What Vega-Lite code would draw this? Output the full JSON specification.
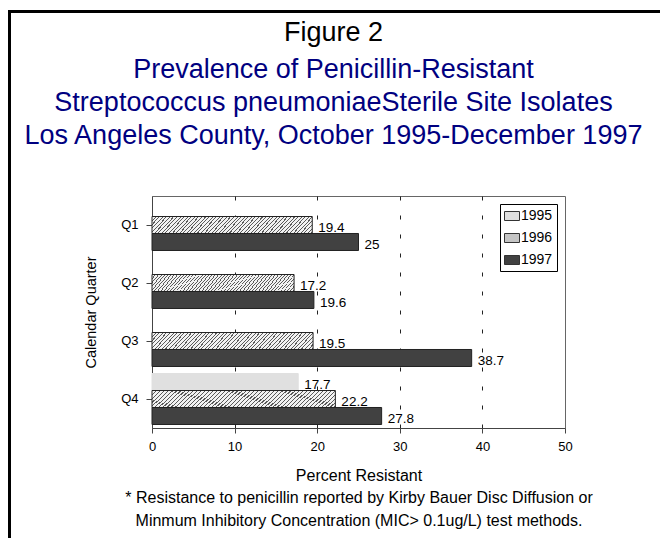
{
  "$schema": "https://vega.github.io/schema/vega-lite/v6.json",
  "width": 413,
  "height": 232,
  "autosize": {"type": "none"},
  "padding": {"left": 152, "top": 196, "right": 95, "bottom": 110},
  "background": "white",
  "config": {
    "font": "Liberation Sans",
    "view": {"stroke": "#666666", "strokeWidth": 1}
  },
  "title": {
    "text": "Figure 2",
    "subtitle": ["Prevalence of Penicillin-Resistant", "Streptococcus pneumoniaeSterile Site Isolates", "Los Angeles County, October 1995-December 1997"],
    "anchor": "middle",
    "dx": -25,
    "font": "Liberation Sans",
    "fontSize": 27,
    "fontWeight": "normal",
    "color": "#000000",
    "subtitleFont": "Liberation Sans",
    "subtitleFontSize": 27,
    "subtitleColor": "#000080",
    "subtitleLineHeight": 33,
    "subtitlePadding": 10.5,
    "offset": -140
  },
  "data": {
    "values": [
      {"quarter": "Q1", "year": "1996", "pct": 19.4},
      {"quarter": "Q1", "year": "1997", "pct": 25},
      {"quarter": "Q2", "year": "1996", "pct": 17.2},
      {"quarter": "Q2", "year": "1997", "pct": 19.6},
      {"quarter": "Q3", "year": "1996", "pct": 19.5},
      {"quarter": "Q3", "year": "1997", "pct": 38.7},
      {"quarter": "Q4", "year": "1995", "pct": 17.7},
      {"quarter": "Q4", "year": "1996", "pct": 22.2},
      {"quarter": "Q4", "year": "1997", "pct": 27.8}
    ]
  },
  "encoding": {
    "y": {
      "field": "quarter",
      "type": "nominal",
      "scale": {"domain": ["Q1", "Q2", "Q3", "Q4"], "paddingInner": 0, "paddingOuter": 0},
      "axis": {
        "title": "Calendar Quarter",
        "titleFontSize": 14.5,
        "titleFontWeight": "normal",
        "titleColor": "#000000",
        "titlePadding": 22,
        "labelFontSize": 13,
        "labelColor": "#000000",
        "labelPadding": 8,
        "labelAngle": 0,
        "tickSize": 6,
        "tickColor": "#444444",
        "domainColor": "#444444"
      }
    },
    "yOffset": {
      "field": "year",
      "type": "nominal",
      "scale": {"domain": ["1995", "1996", "1997"], "paddingInner": 0, "paddingOuter": 0.206}
    },
    "x": {
      "field": "pct",
      "type": "quantitative",
      "scale": {"domain": [0, 50], "nice": false},
      "axis": {
        "values": [0, 10, 20, 30, 40, 50],
        "title": ["Percent Resistant", "* Resistance to penicillin reported by Kirby Bauer Disc Diffusion or", "Minmum Inhibitory Concentration (MIC> 0.1ug/L) test methods."],
        "titleFontSize": 16,
        "titleFontWeight": "normal",
        "titleColor": "#000000",
        "titleLineHeight": 22.5,
        "titlePadding": 14,
        "labelFontSize": 13,
        "labelColor": "#000000",
        "labelPadding": 7,
        "labelFlush": false,
        "tickSize": 5,
        "tickColor": "#444444",
        "domainColor": "#444444",
        "grid": true,
        "gridColor": "#222222",
        "gridDash": [4, 15],
        "gridOpacity": {"condition": {"test": "datum.value === 0 || datum.value === 50", "value": 0}, "value": 1}
      }
    }
  },
  "layer": [
    {
      "mark": {"type": "bar", "strokeWidth": 1},
      "encoding": {
        "fill": {
          "condition": {
            "test": "datum.year === '1996'",
            "value": {
              "gradient": "linear", "x1": 0, "y1": 0, "x2": 1.1, "y2": 0.11,
              "stops": [
                {"offset": 0, "color": "#5a5a5a"}, {"offset": 0.006, "color": "#5a5a5a"}, {"offset": 0.006, "color": "#f2f2f2"}, {"offset": 0.02, "color": "#f2f2f2"},
                {"offset": 0.02, "color": "#5a5a5a"}, {"offset": 0.026, "color": "#5a5a5a"}, {"offset": 0.026, "color": "#f2f2f2"}, {"offset": 0.04, "color": "#f2f2f2"},
                {"offset": 0.04, "color": "#5a5a5a"}, {"offset": 0.046, "color": "#5a5a5a"}, {"offset": 0.046, "color": "#f2f2f2"}, {"offset": 0.06, "color": "#f2f2f2"},
                {"offset": 0.06, "color": "#5a5a5a"}, {"offset": 0.066, "color": "#5a5a5a"}, {"offset": 0.066, "color": "#f2f2f2"}, {"offset": 0.08, "color": "#f2f2f2"},
                {"offset": 0.08, "color": "#5a5a5a"}, {"offset": 0.086, "color": "#5a5a5a"}, {"offset": 0.086, "color": "#f2f2f2"}, {"offset": 0.1, "color": "#f2f2f2"},
                {"offset": 0.1, "color": "#5a5a5a"}, {"offset": 0.106, "color": "#5a5a5a"}, {"offset": 0.106, "color": "#f2f2f2"}, {"offset": 0.12, "color": "#f2f2f2"},
                {"offset": 0.12, "color": "#5a5a5a"}, {"offset": 0.126, "color": "#5a5a5a"}, {"offset": 0.126, "color": "#f2f2f2"}, {"offset": 0.14, "color": "#f2f2f2"},
                {"offset": 0.14, "color": "#5a5a5a"}, {"offset": 0.146, "color": "#5a5a5a"}, {"offset": 0.146, "color": "#f2f2f2"}, {"offset": 0.16, "color": "#f2f2f2"},
                {"offset": 0.16, "color": "#5a5a5a"}, {"offset": 0.166, "color": "#5a5a5a"}, {"offset": 0.166, "color": "#f2f2f2"}, {"offset": 0.18, "color": "#f2f2f2"},
                {"offset": 0.18, "color": "#5a5a5a"}, {"offset": 0.186, "color": "#5a5a5a"}, {"offset": 0.186, "color": "#f2f2f2"}, {"offset": 0.2, "color": "#f2f2f2"},
                {"offset": 0.2, "color": "#5a5a5a"}, {"offset": 0.206, "color": "#5a5a5a"}, {"offset": 0.206, "color": "#f2f2f2"}, {"offset": 0.22, "color": "#f2f2f2"},
                {"offset": 0.22, "color": "#5a5a5a"}, {"offset": 0.226, "color": "#5a5a5a"}, {"offset": 0.226, "color": "#f2f2f2"}, {"offset": 0.24, "color": "#f2f2f2"},
                {"offset": 0.24, "color": "#5a5a5a"}, {"offset": 0.246, "color": "#5a5a5a"}, {"offset": 0.246, "color": "#f2f2f2"}, {"offset": 0.26, "color": "#f2f2f2"},
                {"offset": 0.26, "color": "#5a5a5a"}, {"offset": 0.266, "color": "#5a5a5a"}, {"offset": 0.266, "color": "#f2f2f2"}, {"offset": 0.28, "color": "#f2f2f2"},
                {"offset": 0.28, "color": "#5a5a5a"}, {"offset": 0.286, "color": "#5a5a5a"}, {"offset": 0.286, "color": "#f2f2f2"}, {"offset": 0.3, "color": "#f2f2f2"},
                {"offset": 0.3, "color": "#5a5a5a"}, {"offset": 0.306, "color": "#5a5a5a"}, {"offset": 0.306, "color": "#f2f2f2"}, {"offset": 0.32, "color": "#f2f2f2"},
                {"offset": 0.32, "color": "#5a5a5a"}, {"offset": 0.326, "color": "#5a5a5a"}, {"offset": 0.326, "color": "#f2f2f2"}, {"offset": 0.34, "color": "#f2f2f2"},
                {"offset": 0.34, "color": "#5a5a5a"}, {"offset": 0.346, "color": "#5a5a5a"}, {"offset": 0.346, "color": "#f2f2f2"}, {"offset": 0.36, "color": "#f2f2f2"},
                {"offset": 0.36, "color": "#5a5a5a"}, {"offset": 0.366, "color": "#5a5a5a"}, {"offset": 0.366, "color": "#f2f2f2"}, {"offset": 0.38, "color": "#f2f2f2"},
                {"offset": 0.38, "color": "#5a5a5a"}, {"offset": 0.386, "color": "#5a5a5a"}, {"offset": 0.386, "color": "#f2f2f2"}, {"offset": 0.4, "color": "#f2f2f2"},
                {"offset": 0.4, "color": "#5a5a5a"}, {"offset": 0.406, "color": "#5a5a5a"}, {"offset": 0.406, "color": "#f2f2f2"}, {"offset": 0.42, "color": "#f2f2f2"},
                {"offset": 0.42, "color": "#5a5a5a"}, {"offset": 0.426, "color": "#5a5a5a"}, {"offset": 0.426, "color": "#f2f2f2"}, {"offset": 0.44, "color": "#f2f2f2"},
                {"offset": 0.44, "color": "#5a5a5a"}, {"offset": 0.446, "color": "#5a5a5a"}, {"offset": 0.446, "color": "#f2f2f2"}, {"offset": 0.46, "color": "#f2f2f2"},
                {"offset": 0.46, "color": "#5a5a5a"}, {"offset": 0.466, "color": "#5a5a5a"}, {"offset": 0.466, "color": "#f2f2f2"}, {"offset": 0.48, "color": "#f2f2f2"},
                {"offset": 0.48, "color": "#5a5a5a"}, {"offset": 0.486, "color": "#5a5a5a"}, {"offset": 0.486, "color": "#f2f2f2"}, {"offset": 0.5, "color": "#f2f2f2"},
                {"offset": 0.5, "color": "#5a5a5a"}, {"offset": 0.506, "color": "#5a5a5a"}, {"offset": 0.506, "color": "#f2f2f2"}, {"offset": 0.52, "color": "#f2f2f2"},
                {"offset": 0.52, "color": "#5a5a5a"}, {"offset": 0.526, "color": "#5a5a5a"}, {"offset": 0.526, "color": "#f2f2f2"}, {"offset": 0.54, "color": "#f2f2f2"},
                {"offset": 0.54, "color": "#5a5a5a"}, {"offset": 0.546, "color": "#5a5a5a"}, {"offset": 0.546, "color": "#f2f2f2"}, {"offset": 0.56, "color": "#f2f2f2"},
                {"offset": 0.56, "color": "#5a5a5a"}, {"offset": 0.566, "color": "#5a5a5a"}, {"offset": 0.566, "color": "#f2f2f2"}, {"offset": 0.58, "color": "#f2f2f2"},
                {"offset": 0.58, "color": "#5a5a5a"}, {"offset": 0.586, "color": "#5a5a5a"}, {"offset": 0.586, "color": "#f2f2f2"}, {"offset": 0.6, "color": "#f2f2f2"},
                {"offset": 0.6, "color": "#5a5a5a"}, {"offset": 0.606, "color": "#5a5a5a"}, {"offset": 0.606, "color": "#f2f2f2"}, {"offset": 0.62, "color": "#f2f2f2"},
                {"offset": 0.62, "color": "#5a5a5a"}, {"offset": 0.626, "color": "#5a5a5a"}, {"offset": 0.626, "color": "#f2f2f2"}, {"offset": 0.64, "color": "#f2f2f2"},
                {"offset": 0.64, "color": "#5a5a5a"}, {"offset": 0.646, "color": "#5a5a5a"}, {"offset": 0.646, "color": "#f2f2f2"}, {"offset": 0.66, "color": "#f2f2f2"},
                {"offset": 0.66, "color": "#5a5a5a"}, {"offset": 0.666, "color": "#5a5a5a"}, {"offset": 0.666, "color": "#f2f2f2"}, {"offset": 0.68, "color": "#f2f2f2"},
                {"offset": 0.68, "color": "#5a5a5a"}, {"offset": 0.686, "color": "#5a5a5a"}, {"offset": 0.686, "color": "#f2f2f2"}, {"offset": 0.7, "color": "#f2f2f2"},
                {"offset": 0.7, "color": "#5a5a5a"}, {"offset": 0.706, "color": "#5a5a5a"}, {"offset": 0.706, "color": "#f2f2f2"}, {"offset": 0.72, "color": "#f2f2f2"},
                {"offset": 0.72, "color": "#5a5a5a"}, {"offset": 0.726, "color": "#5a5a5a"}, {"offset": 0.726, "color": "#f2f2f2"}, {"offset": 0.74, "color": "#f2f2f2"},
                {"offset": 0.74, "color": "#5a5a5a"}, {"offset": 0.746, "color": "#5a5a5a"}, {"offset": 0.746, "color": "#f2f2f2"}, {"offset": 0.76, "color": "#f2f2f2"},
                {"offset": 0.76, "color": "#5a5a5a"}, {"offset": 0.766, "color": "#5a5a5a"}, {"offset": 0.766, "color": "#f2f2f2"}, {"offset": 0.78, "color": "#f2f2f2"},
                {"offset": 0.78, "color": "#5a5a5a"}, {"offset": 0.786, "color": "#5a5a5a"}, {"offset": 0.786, "color": "#f2f2f2"}, {"offset": 0.8, "color": "#f2f2f2"},
                {"offset": 0.8, "color": "#5a5a5a"}, {"offset": 0.806, "color": "#5a5a5a"}, {"offset": 0.806, "color": "#f2f2f2"}, {"offset": 0.82, "color": "#f2f2f2"},
                {"offset": 0.82, "color": "#5a5a5a"}, {"offset": 0.826, "color": "#5a5a5a"}, {"offset": 0.826, "color": "#f2f2f2"}, {"offset": 0.84, "color": "#f2f2f2"},
                {"offset": 0.84, "color": "#5a5a5a"}, {"offset": 0.846, "color": "#5a5a5a"}, {"offset": 0.846, "color": "#f2f2f2"}, {"offset": 0.86, "color": "#f2f2f2"},
                {"offset": 0.86, "color": "#5a5a5a"}, {"offset": 0.866, "color": "#5a5a5a"}, {"offset": 0.866, "color": "#f2f2f2"}, {"offset": 0.88, "color": "#f2f2f2"},
                {"offset": 0.88, "color": "#5a5a5a"}, {"offset": 0.886, "color": "#5a5a5a"}, {"offset": 0.886, "color": "#f2f2f2"}, {"offset": 0.9, "color": "#f2f2f2"},
                {"offset": 0.9, "color": "#5a5a5a"}, {"offset": 0.906, "color": "#5a5a5a"}, {"offset": 0.906, "color": "#f2f2f2"}, {"offset": 0.92, "color": "#f2f2f2"},
                {"offset": 0.92, "color": "#5a5a5a"}, {"offset": 0.926, "color": "#5a5a5a"}, {"offset": 0.926, "color": "#f2f2f2"}, {"offset": 0.94, "color": "#f2f2f2"},
                {"offset": 0.94, "color": "#5a5a5a"}, {"offset": 0.946, "color": "#5a5a5a"}, {"offset": 0.946, "color": "#f2f2f2"}, {"offset": 0.96, "color": "#f2f2f2"},
                {"offset": 0.96, "color": "#5a5a5a"}, {"offset": 0.966, "color": "#5a5a5a"}, {"offset": 0.966, "color": "#f2f2f2"}, {"offset": 0.98, "color": "#f2f2f2"},
                {"offset": 0.98, "color": "#5a5a5a"}, {"offset": 0.986, "color": "#5a5a5a"}, {"offset": 0.986, "color": "#f2f2f2"}, {"offset": 1, "color": "#f2f2f2"}
              ]
            }
          },
          "field": "year",
          "type": "nominal",
          "scale": {"domain": ["1995", "1996", "1997"], "range": ["#e0e0e0", "#c4c4c4", "#414141"]},
          "legend": {
            "title": null,
            "orient": "top-right",
            "offset": 8,
            "padding": 4,
            "strokeColor": "#000000",
            "fillColor": "#ffffff",
            "symbolType": "M-1,-0.6H1V0.6H-1Z",
            "symbolSize": 225,
            "symbolStrokeColor": "#333333",
            "symbolStrokeWidth": 1,
            "symbolOpacity": 1,
            "labelFontSize": 14,
            "labelColor": "#000000",
            "labelOffset": 1,
            "rowPadding": 7
          }
        },
        "stroke": {"condition": {"test": "datum.year === '1995'", "value": "#e0e0e0"}, "value": "#222222"}
      }
    },
    {
      "mark": {"type": "text", "align": "left", "baseline": "middle", "dx": 6, "dy": 3, "fontSize": 13.5},
      "encoding": {
        "text": {"field": "pct", "type": "quantitative"},
        "color": {
          "datum": "frame",
          "type": "nominal",
          "scale": {"range": ["#000000"]},
          "legend": {
            "title": null,
            "orient": "none",
            "legendX": -142.5,
            "legendY": -184.5,
            "padding": 322,
            "strokeColor": "#000000",
            "symbolOpacity": 0,
            "symbolSize": 16,
            "labelExpr": "''",
            "labelOffset": 0,
            "encode": {"legend": {"update": {"strokeWidth": {"value": 3}}}}
          }
        }
      }
    }
  ]
}
